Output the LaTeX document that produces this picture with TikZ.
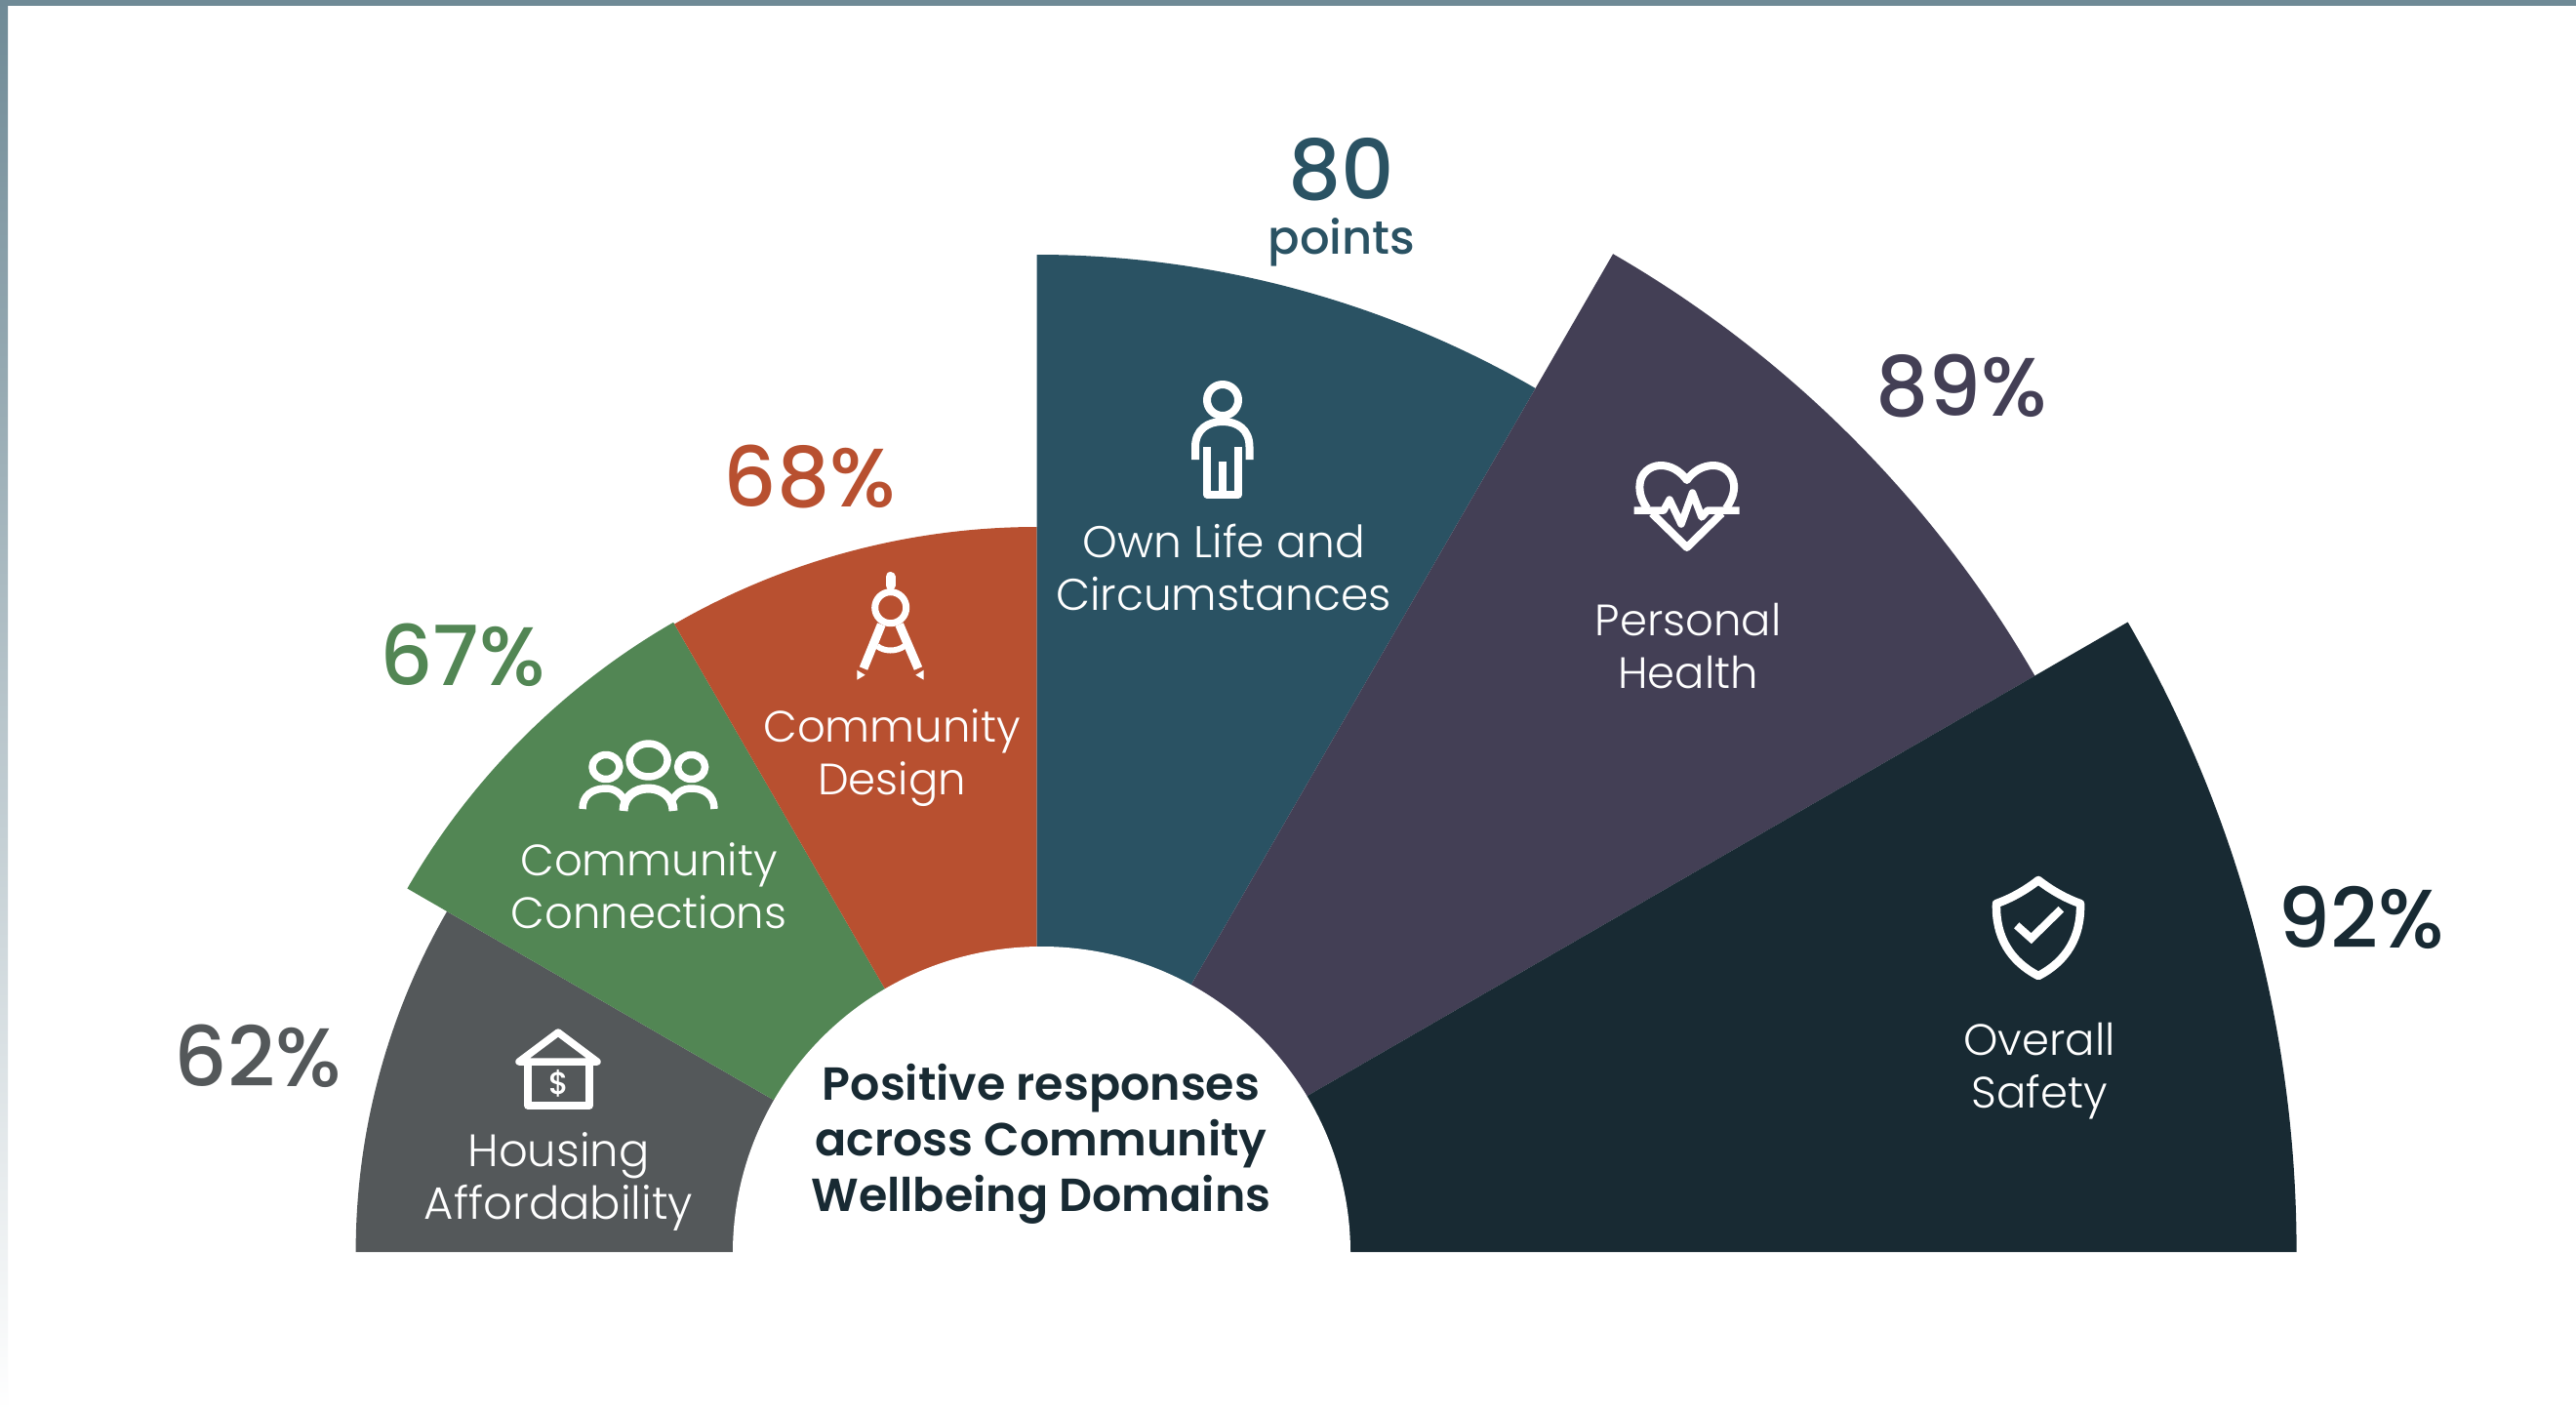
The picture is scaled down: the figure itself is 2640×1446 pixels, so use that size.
\documentclass[tikz,border=0pt]{standalone}
\usepackage{fontspec}
\setmainfont{Poppins}
\newfontfamily\lightf{Poppins Light}
\newfontfamily\medf{Poppins Medium}
\newfontfamily\semif{Poppins SemiBold}
\definecolor{cgray}{HTML}{54585A}
\definecolor{cgreen}{HTML}{528654}
\definecolor{cred}{HTML}{B85030}
\definecolor{cblue}{HTML}{2A5263}
\definecolor{cpurple}{HTML}{433F55}
\definecolor{cdark}{HTML}{182A33}
\definecolor{cbar}{HTML}{6F8A96}
\tikzset{
  x=1pt,y=-1pt,
  wlabel/.style={text=white,align=center,font=\lightf\fontsize{45}{54}\selectfont,inner sep=0pt},
  pct/.style={font=\medf\fontsize{85}{85}\selectfont,inner sep=0pt},
  ico/.style={draw=white,line width=7.5pt,fill=none,line join=round},
}
\newcommand{\wedgefill}[4]{\fill[#1] (1062.6,1283) -- ++(#2:#4pt) arc[start angle=#2,end angle=#3,radius=#4pt] -- cycle;}
\begin{document}
\begin{tikzpicture}
\useasboundingbox (0,0) rectangle (2640,1446);
\fill[white] (0,0) rectangle (2640,1446);
\shade[top color=cbar,bottom color=white] (0,0) rectangle (8,1446);
\fill[cbar] (0,0) rectangle (2640,6);
\wedgefill{cgray}{150}{180}{698}
\wedgefill{cgreen}{120}{150}{745}
\wedgefill{cred}{90}{120}{743}
\wedgefill{cblue}{60}{90}{1022}
\wedgefill{cpurple}{30}{60}{1181}
\wedgefill{cdark}{0}{30}{1291}
\fill[white] (751,1284) arc[start angle=180,end angle=0,x radius=316.5pt,y radius=314pt] -- cycle;
% labels
\node[wlabel,font=\lightf\fontsize{46.5}{54}\selectfont] (l1) at (572.5,1211) {Housing\\Affordability};
\node[wlabel] (l2) at (665,908) {Community\\Connections};
\node[wlabel] (l3) at (914,777) {Community\\Design};
\node[wlabel,font=\lightf\fontsize{45.5}{54}\selectfont] (l4) at (1254,581) {Own Life and\\Circumstances};
\node[wlabel] (l5) at (1730,662) {Personal\\Health};
\node[wlabel] (l6) at (2090,1098) {Overall\\Safety};
\node[pct,text=cgray] (p1) at (264,1082) {62\%};
\node[pct,text=cgreen] (p2) at (474,671) {67\%};
\node[pct,text=cred] (p3) at (830,489) {68\%};
\node[pct,text=cblue] (p4) at (1375,174) {80};
\node[text=cblue,font=\medf\fontsize{48}{48}\selectfont,inner sep=0pt] (p4b) at (1375,248) {points};
\node[pct,text=cpurple] (p5) at (2010,396) {89\%};
\node[pct,text=cdark] (p6) at (2420,940) {92\%};
\node[text=cdark,align=center,font=\semif\fontsize{47.5}{57}\selectfont,inner sep=0pt] (title) at (1067,1172) {Positive responses\\across Community\\Wellbeing Domains};
% house
\draw[ico,line width=7.5pt] (572,1058) -- (532,1088) -- (612,1088) -- cycle;
\draw[ico,line width=7.5pt] (541,1088) -- (541,1133) -- (604,1133) -- (604,1088);
\node[text=white,font=\medf\fontsize{32}{32}\selectfont,inner sep=0pt] (dollar) at (572.5,1110) {\$};
% community
\draw[ico] (664.6,779) ellipse[x radius=19.5pt,y radius=17pt];
\draw[ico] (621,786) ellipse[x radius=14pt,y radius=12.5pt];
\draw[ico] (708.6,786) ellipse[x radius=14pt,y radius=12.5pt];
\draw[ico] (597,829) .. controls (597,815) and (607,808) .. (621,808) .. controls (630,808) and (636,813) .. (640,820);
\draw[ico] (732,829) .. controls (732,815) and (722,808) .. (708.6,808) .. controls (699,808) and (693,813) .. (689,820);
\draw[ico,line width=9pt] (639,831) .. controls (639,817) and (650,808) .. (664.6,808) .. controls (678,808) and (690,817) .. (690,831);
% compass
\draw[draw=white,line width=10pt,line cap=round] (912.5,591) -- (912.5,600);
\draw[ico,line width=7pt] (912.7,622.7) circle[radius=16pt];
\draw[draw=white,line width=9pt] (903.3,640) -- (885,685);
\draw[draw=white,line width=9pt] (921.7,640) -- (941,685);
\draw[ico,line width=6pt] (899,662) .. controls (906,668) and (919,668) .. (927,662);
\fill[white] (878.3,686.7) -- (878.3,696.7) -- (886.7,691.7) -- cycle;
\fill[white] (946.7,686.7) -- (946.7,696.7) -- (938.3,691.7) -- cycle;
% person
\draw[ico,line width=8pt] (1253,410) circle[radius=16pt];
\draw[ico,line width=8pt,line cap=butt] (1225,471) -- (1225,458) .. controls (1225,440) and (1238,432) .. (1253,432) .. controls (1268,432) and (1280.5,440) .. (1280.5,458) -- (1280.5,471);
\draw[ico,line width=8pt] (1237,458) -- (1237,506.7) -- (1269,506.7) -- (1269,458);
\draw[ico,line width=8pt] (1253,473) -- (1253,506.7);
% heart
\draw[ico,line width=8pt] (1688,521) .. controls (1682,512) and (1680,505) .. (1680.5,497) .. controls (1681,485) and (1691,477) .. (1702,477) .. controls (1713,477) and (1722,483) .. (1728.8,492) .. controls (1735,483) and (1745,477) .. (1756,477) .. controls (1767,477) and (1776,485) .. (1777,497) .. controls (1777.5,505) and (1775,512) .. (1769,521);
\draw[ico,line width=8pt] (1693,526) -- (1728.8,561) -- (1764.6,526);
\draw[ico,line width=7.5pt] (1674.5,523) -- (1705,523) -- (1711,512) -- (1723,537) -- (1734.5,505) -- (1744,530) -- (1750,523) -- (1782.7,523);
% shield
\draw[ico,line width=8.5pt] (2089,902) .. controls (2075,913) and (2060,921) .. (2046,926) .. controls (2045,960) and (2060,985) .. (2089,1000) .. controls (2118,985) and (2133,960) .. (2132,926) .. controls (2118,921) and (2103,913) .. (2089,902) -- cycle;
\draw[ico,line width=8pt,line join=miter] (2066.7,948.3) -- (2081.7,961.7) -- (2112.3,931.7);
\end{tikzpicture}
\end{document}
